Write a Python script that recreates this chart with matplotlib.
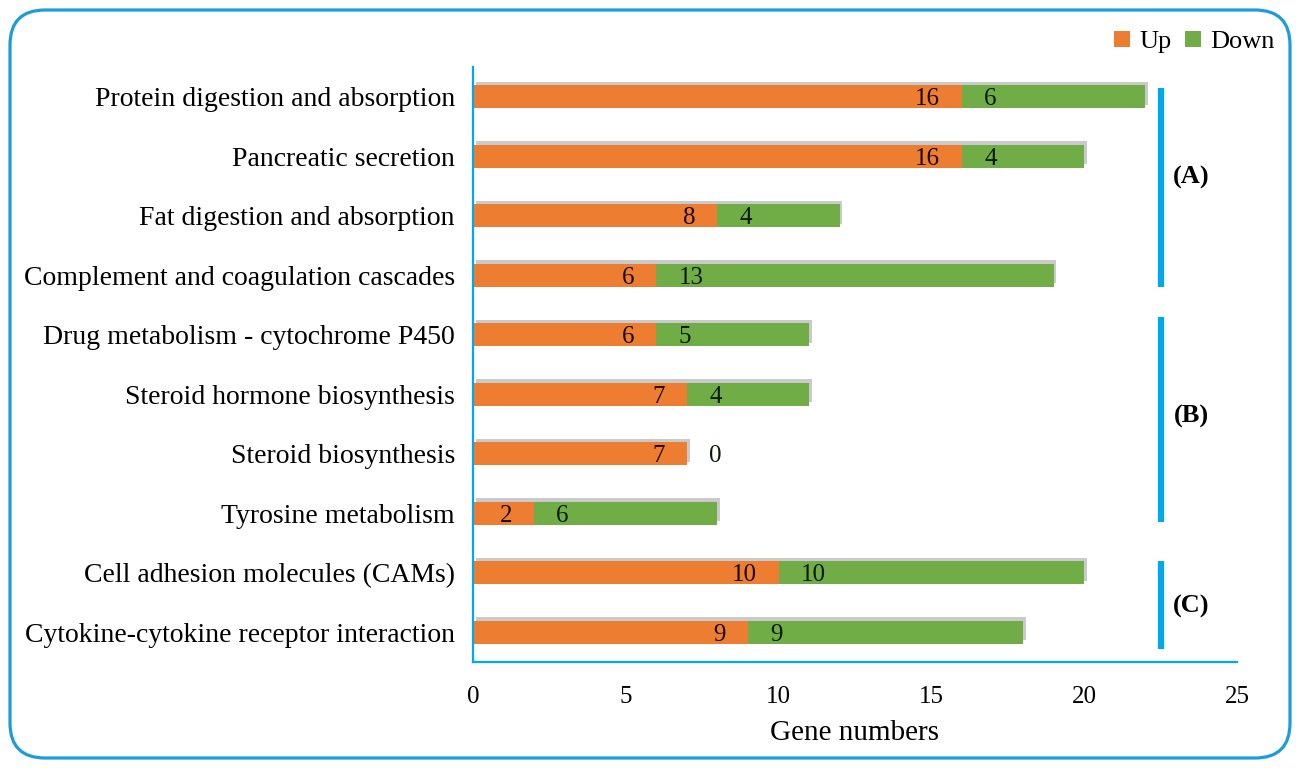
import matplotlib
matplotlib.use("Agg")
import matplotlib.pyplot as plt
import matplotlib.patheffects as pe
from matplotlib.patches import FancyBboxPatch, Patch

categories = [
    "Protein digestion and absorption",
    "Pancreatic secretion",
    "Fat digestion and absorption",
    "Complement and coagulation cascades",
    "Drug metabolism - cytochrome P450",
    "Steroid hormone biosynthesis",
    "Steroid biosynthesis",
    "Tyrosine metabolism",
    "Cell adhesion molecules (CAMs)",
    "Cytokine-cytokine receptor interaction",
]
up_values = [16, 16, 8, 6, 6, 7, 7, 2, 10, 9]
down_values = [6, 4, 4, 13, 5, 4, 0, 6, 10, 9]
x_ticks = [0, 5, 10, 15, 20, 25]
group_labels = ["(A)", "(B)", "(C)"]
group_spans = [(-0.15, 3.19), (3.71, 7.14), (7.81, 9.28)]
group_label_y = [1.35, 5.37, 8.56]

ORANGE = "#ED7D31"
GREEN = "#70AD47"
BLUE = "#00A8EC"
BORDER = "#1E9CD8"

plt.rcParams["font.family"] = ["Liberation Serif", "DejaVu Serif"]

fig = plt.figure(figsize=(12.99, 7.68), dpi=100)
ax = fig.add_axes([473 / 1299, 106 / 768, (1237 - 473) / 1299, (701 - 106) / 768])

y = list(range(len(categories)))
shadow = [pe.SimplePatchShadow(offset=(2, 2.5), shadow_rgbFace="#8a8a8a", alpha=0.45), pe.Normal()]
bars_up = ax.barh(y, up_values, height=0.39, color=ORANGE, label="Up", zorder=2)
bars_dn = ax.barh(y, down_values, left=up_values, height=0.39, color=GREEN, label="Down", zorder=2)
for b in list(bars_up) + list(bars_dn):
    b.set_path_effects(shadow)

for yi, u, d in zip(y, up_values, down_values):
    ax.annotate(str(u), (u, yi), xytext=(-16, 0), textcoords="offset points",
                ha="right", va="center_baseline", fontsize=18, color="#1a0a00", zorder=3)
    ax.annotate(str(d), (u, yi), xytext=(16, 0), textcoords="offset points",
                ha="left", va="center_baseline", fontsize=18, color="#0a1a00", zorder=3)

ax.set_xlim(0, 25)
ax.set_ylim(9.5, -0.5)
ax.set_xticks(x_ticks)
ax.set_xticklabels([str(t) for t in x_ticks])
ax.set_yticks(y)
ax.set_yticklabels(categories, fontsize=20)
ax.tick_params(axis="both", length=0)
ax.tick_params(axis="x", labelsize=18, pad=17)
ax.tick_params(axis="y", pad=13)
ax.set_xlabel("Gene numbers", fontsize=21, labelpad=9)

for s in ["top", "right"]:
    ax.spines[s].set_visible(False)
for s in ["left", "bottom"]:
    ax.spines[s].set_color(BLUE)
    ax.spines[s].set_linewidth(1.6)
ax.spines["bottom"].set_bounds(0, 25)

for lab, (y0, y1), ly in zip(group_labels, group_spans, group_label_y):
    ax.plot([22.5, 22.5], [y0, y1], color=BLUE, linewidth=4.5, solid_capstyle="butt",
            clip_on=False, zorder=3)
    ax.text(23.5, ly, lab, ha="center", va="center", fontsize=19, fontweight="bold",
            clip_on=False)

handles = [Patch(facecolor=ORANGE), Patch(facecolor=GREEN)]
fig.legend(handles, ["Up", "Down"], loc="upper right", bbox_to_anchor=(1285 / 1299, 1 - 20 / 768),
           ncol=2, frameon=False, fontsize=19, handlelength=0.6, handleheight=0.6,
           handletextpad=0.35, columnspacing=0.5, borderaxespad=0)

box = FancyBboxPatch((0.1, 0.1), 12.8, 7.48, boxstyle="round,pad=0,rounding_size=0.35",
                     transform=fig.dpi_scale_trans, facecolor="none", edgecolor=BORDER,
                     linewidth=2.3, zorder=10)
fig.patches.append(box)

fig.savefig("out.png", dpi=100)
